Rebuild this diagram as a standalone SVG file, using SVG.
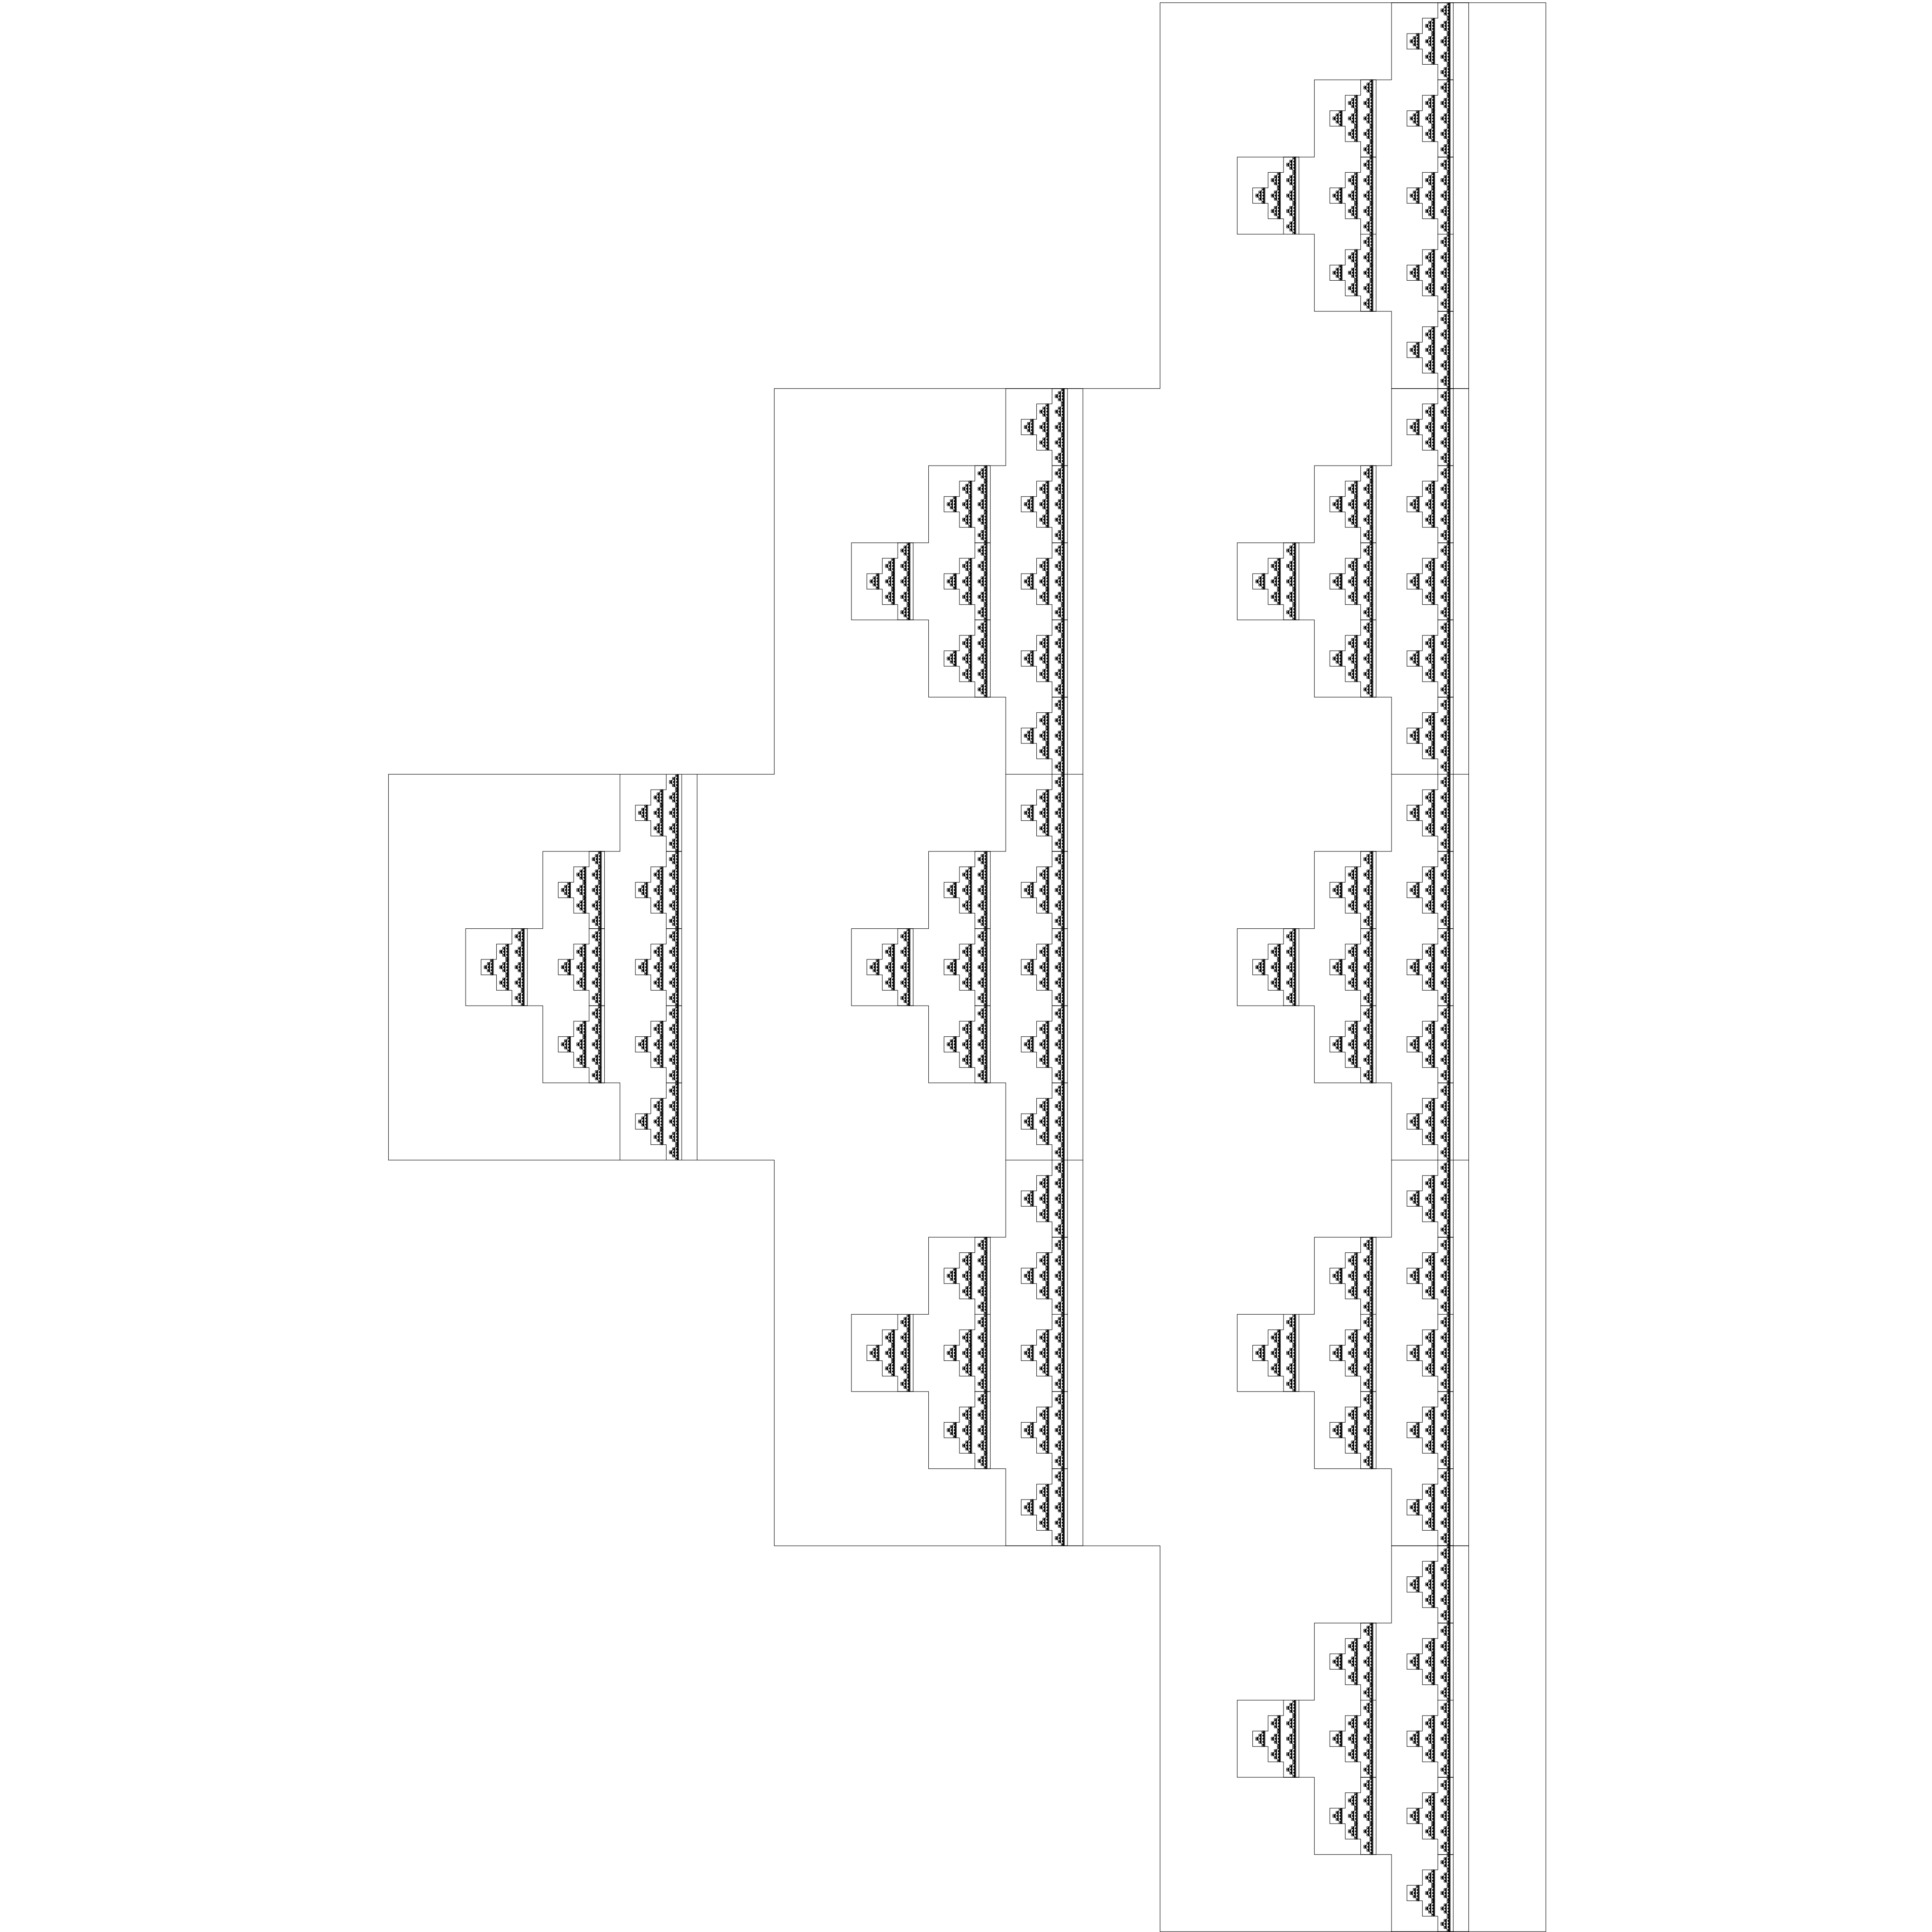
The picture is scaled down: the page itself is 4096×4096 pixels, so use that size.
<svg xmlns="http://www.w3.org/2000/svg" width="4096" height="4096" viewBox="0 0 4096 4096">
<style>
.p{fill:none;stroke:#000;stroke-linejoin:miter}
.k0{stroke-width:0.0012227}
.k1{stroke-width:0.0061133}
.k2{stroke-width:0.030567}
.k3{stroke-width:0.15283}
.k4{stroke-width:0.76417;fill:#000}
</style>
<defs>
<g id="g4">
<path class="p k4" d="M1,2H2V1H3V0H4V5H3V4H2V3H1Z"/>
</g>
<g id="g3">
<path class="p k3" d="M1,2H2V1H3V0H4V5H3V4H2V3H1Z"/>
<use href="#g4" transform="translate(1,2) scale(0.2)"/>
<use href="#g4" transform="translate(2,1) scale(0.2)"/>
<use href="#g4" transform="translate(2,2) scale(0.2)"/>
<use href="#g4" transform="translate(2,3) scale(0.2)"/>
<use href="#g4" transform="translate(3,0) scale(0.2)"/>
<use href="#g4" transform="translate(3,1) scale(0.2)"/>
<use href="#g4" transform="translate(3,2) scale(0.2)"/>
<use href="#g4" transform="translate(3,3) scale(0.2)"/>
<use href="#g4" transform="translate(3,4) scale(0.2)"/>
</g>
<g id="g2">
<path class="p k2" d="M1,2H2V1H3V0H4V5H3V4H2V3H1Z"/>
<use href="#g3" transform="translate(1,2) scale(0.2)"/>
<use href="#g3" transform="translate(2,1) scale(0.2)"/>
<use href="#g3" transform="translate(2,2) scale(0.2)"/>
<use href="#g3" transform="translate(2,3) scale(0.2)"/>
<use href="#g3" transform="translate(3,0) scale(0.2)"/>
<use href="#g3" transform="translate(3,1) scale(0.2)"/>
<use href="#g3" transform="translate(3,2) scale(0.2)"/>
<use href="#g3" transform="translate(3,3) scale(0.2)"/>
<use href="#g3" transform="translate(3,4) scale(0.2)"/>
</g>
<g id="g1">
<path class="p k1" d="M1,2H2V1H3V0H4V5H3V4H2V3H1Z"/>
<use href="#g2" transform="translate(1,2) scale(0.2)"/>
<use href="#g2" transform="translate(2,1) scale(0.2)"/>
<use href="#g2" transform="translate(2,2) scale(0.2)"/>
<use href="#g2" transform="translate(2,3) scale(0.2)"/>
<use href="#g2" transform="translate(3,0) scale(0.2)"/>
<use href="#g2" transform="translate(3,1) scale(0.2)"/>
<use href="#g2" transform="translate(3,2) scale(0.2)"/>
<use href="#g2" transform="translate(3,3) scale(0.2)"/>
<use href="#g2" transform="translate(3,4) scale(0.2)"/>
</g>
</defs>
<rect width="4096" height="4096" fill="#fff"/>
<g id="fractal" transform="translate(5.73,5.73) scale(817.9)">
<path class="p k0" d="M1,2H2V1H3V0H4V5H3V4H2V3H1Z"/>
<use href="#g1" transform="translate(1,2) scale(0.2)"/>
<use href="#g1" transform="translate(2,1) scale(0.2)"/>
<use href="#g1" transform="translate(2,2) scale(0.2)"/>
<use href="#g1" transform="translate(2,3) scale(0.2)"/>
<use href="#g1" transform="translate(3,0) scale(0.2)"/>
<use href="#g1" transform="translate(3,1) scale(0.2)"/>
<use href="#g1" transform="translate(3,2) scale(0.2)"/>
<use href="#g1" transform="translate(3,3) scale(0.2)"/>
<use href="#g1" transform="translate(3,4) scale(0.2)"/>
</g>
</svg>
